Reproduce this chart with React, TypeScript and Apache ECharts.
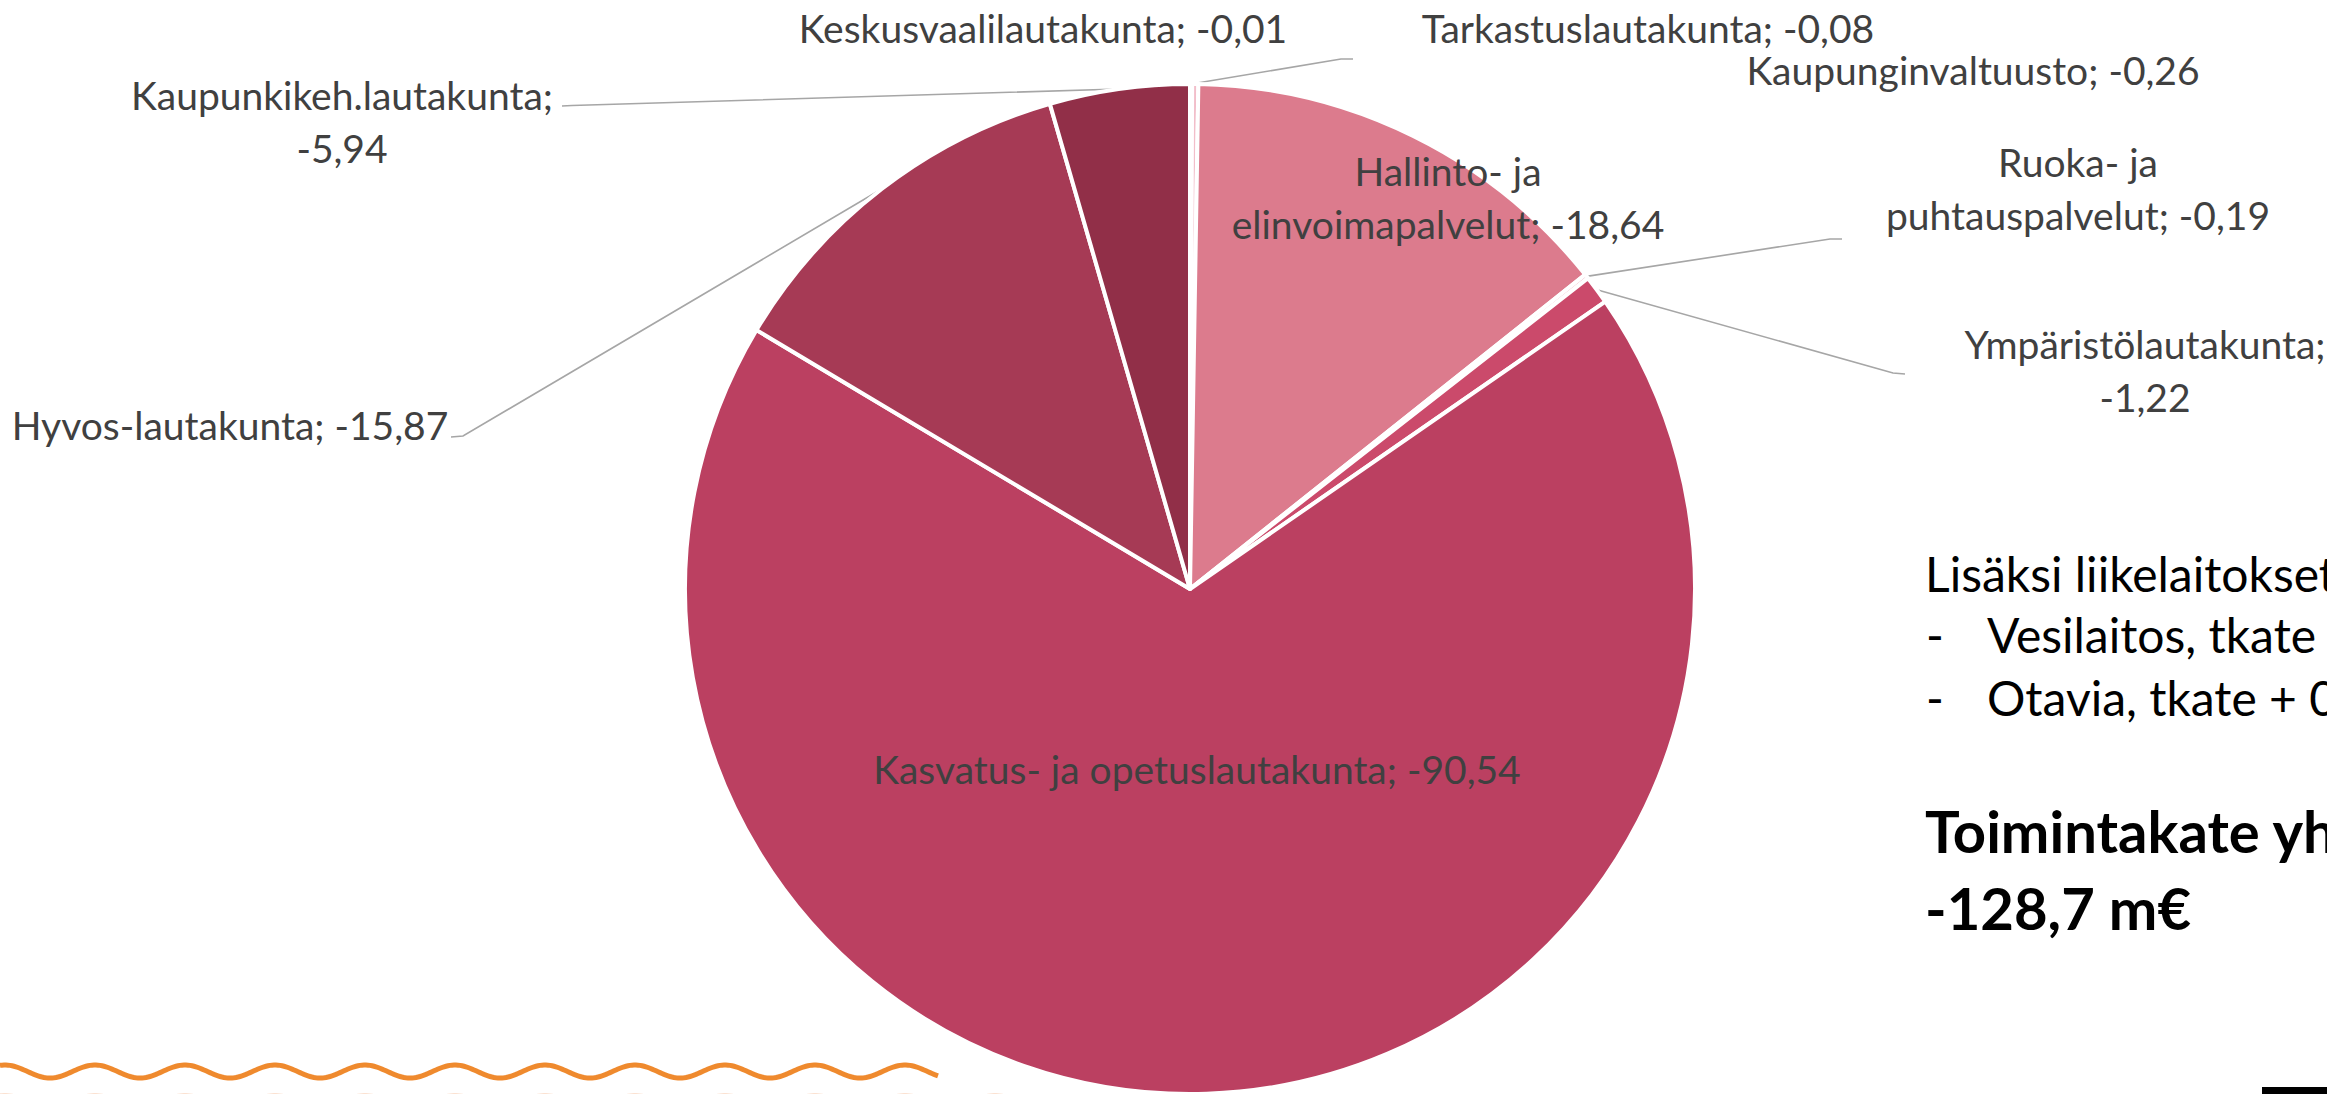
import React, { useEffect, useRef } from "react";
import * as echarts from "echarts";

// ---- data ----
const categories = [
  "Keskusvaalilautakunta",
  "Tarkastuslautakunta",
  "Kaupunginvaltuusto",
  "Hallinto- ja elinvoimapalvelut",
  "Ruoka- ja puhtauspalvelut",
  "Ympäristölautakunta",
  "Kasvatus- ja opetuslautakunta",
  "Hyvos-lautakunta",
  "Kaupunkikeh.lautakunta",
];
const values = [-0.01, -0.08, -0.26, -18.64, -0.19, -1.22, -90.54, -15.87, -5.94];

const noteLines = ["Lisäksi liikelaitokset", "Vesilaitos, tkate", "Otavia, tkate + 0"];
const totalTitle = "Toimintakate yhteensä";
const totalValue = "-128,7 m€";

// ---- styles / layout (not data) ----
const sliceColors = [
  "#EFB2BF",
  "#E99AAB",
  "#F2BECA",
  "#DC7B8D",
  "#EAA0B0",
  "#CB4A6B",
  "#BB4061",
  "#A63A55",
  "#912F48",
];
// label centre, wrap mode, leader line mid & end points (null = no line)
const labelLayouts: { x: number; y: number; wrap: string; line: number[][] | null }[] = [
  { x: 1043, y: 28, wrap: "none", line: null },
  { x: 1648, y: 28, wrap: "none", line: [[1341, 59], [1353, 59]] },
  { x: 1973, y: 70, wrap: "none", line: null },
  { x: 1448, y: 197, wrap: "ja", line: null },
  { x: 2078, y: 188, wrap: "ja", line: [[1830, 239], [1842, 239]] },
  { x: 2145, y: 370, wrap: "value", line: [[1893, 373], [1905, 374]] },
  { x: 1197, y: 769, wrap: "none", line: null },
  { x: 230, y: 425, wrap: "none", line: [[463, 436], [451, 437]] },
  { x: 342, y: 121, wrap: "value", line: [[572, 105.5], [562, 106]] },
];

const fmt = (v: number) => v.toFixed(2).replace(".", ",");

function labelText(i: number) {
  const name = categories[i];
  const v = fmt(values[i]);
  const w = labelLayouts[i].wrap;
  if (w === "value") return `${name};\n${v}`;
  if (w === "ja") return `${name.replace(" ja ", " ja\n")}; ${v}`;
  return `${name}; ${v}`;
}

function wavePoints(x0: number, x1: number, yc: number, amp: number, period: number, phase: number) {
  const pts: number[][] = [];
  for (let x = x0; x <= x1; x += 2) {
    pts.push([x, yc - amp * Math.cos((2 * Math.PI * (x - phase)) / period)]);
  }
  return pts;
}

export default function App() {
  const ref = useRef<HTMLDivElement>(null);
  useEffect(() => {
    if (!ref.current) return;
    const chart = echarts.init(ref.current, undefined, { renderer: "svg" });
    const font = "Lato";
    chart.setOption({
      animation: false,
      backgroundColor: "#ffffff",
      series: [
        {
          type: "pie",
          center: [1190, 589],
          radius: 505,
          startAngle: 90,
          clockwise: true,
          avoidLabelOverlap: false,
          silent: true,
          itemStyle: { borderColor: "#ffffff", borderWidth: 4 },
          label: {
            show: true,
            position: "outside",
            fontFamily: font,
            fontSize: 39,
            lineHeight: 53,
            color: "#404040",
            formatter: (p: any) => labelText(p.dataIndex),
          },
          labelLine: {
            show: true,
            length: 10,
            length2: 10,
            smooth: false,
            lineStyle: { color: "#A6A6A6", width: 1.6 },
          },
          labelLayout: (params: any) => {
            const L = labelLayouts[params.dataIndex];
            const out: any = { x: L.x, y: L.y, align: "center", verticalAlign: "middle" };
            if (L.line && params.labelLinePoints) {
              const p0 = params.labelLinePoints[0];
              out.labelLinePoints = [[p0[0], p0[1]], L.line[0], L.line[1]];
            }
            return out;
          },
          data: categories.map((name, i) => ({
            name,
            value: Math.abs(values[i]),
            itemStyle: { color: sliceColors[i] },
            labelLine: { show: !!labelLayouts[i].line },
          })),
        },
      ],
      graphic: [
        {
          type: "text",
          x: 1925,
          y: 573,
          style: { text: noteLines[0], font: `48px ${font}`, fill: "#000", align: "left", verticalAlign: "middle" },
        },
        {
          type: "text",
          x: 1926,
          y: 634,
          style: { text: "-", font: `48px ${font}`, fill: "#000", align: "left", verticalAlign: "middle" },
        },
        {
          type: "text",
          x: 1987,
          y: 634,
          style: { text: noteLines[1], font: `48px ${font}`, fill: "#000", align: "left", verticalAlign: "middle" },
        },
        {
          type: "text",
          x: 1926,
          y: 697,
          style: { text: "-", font: `48px ${font}`, fill: "#000", align: "left", verticalAlign: "middle" },
        },
        {
          type: "text",
          x: 1987,
          y: 697,
          style: { text: noteLines[2], font: `48px ${font}`, fill: "#000", align: "left", verticalAlign: "middle" },
        },
        {
          type: "text",
          x: 1925,
          y: 830,
          style: { text: totalTitle, font: `bold 58px ${font}`, fill: "#000", align: "left", verticalAlign: "middle" },
        },
        {
          type: "text",
          x: 1925,
          y: 907,
          style: { text: totalValue, font: `bold 58px ${font}`, fill: "#000", align: "left", verticalAlign: "middle" },
        },
        {
          type: "polyline",
          shape: { points: wavePoints(0, 1010, 1102, 6.5, 90, 95) },
          style: { stroke: "#FBE2D2", lineWidth: 5, fill: null },
        },
        {
          type: "polyline",
          shape: { points: wavePoints(0, 939, 1071.5, 6.5, 90, 95) },
          style: { stroke: "#EF8A2E", lineWidth: 5, fill: null },
        },
        {
          type: "rect",
          shape: { x: 2262, y: 1087, width: 65, height: 7 },
          style: { fill: "#000000" },
        },
      ],
    });
    return () => chart.dispose();
  }, []);
  return (
    <div
      ref={ref}
      style={{ position: "fixed", left: 0, top: 0, width: 2327, height: 1094 }}
    />
  );
}
